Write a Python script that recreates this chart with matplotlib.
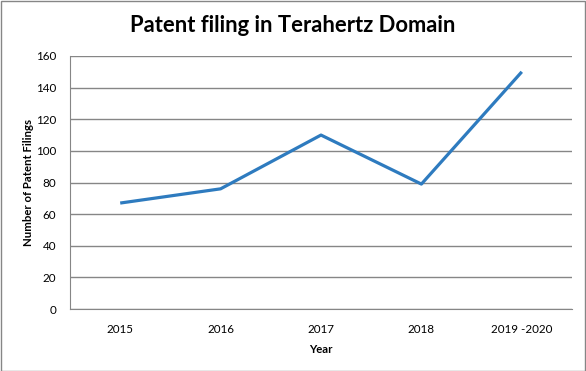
import matplotlib
matplotlib.use("Agg")
import matplotlib.pyplot as plt
from matplotlib.patches import Rectangle

categories = ["2015", "2016", "2017", "2018", "2019 -2020"]
filings = [67, 76, 110, 79, 150]
yticks = [0, 20, 40, 60, 80, 100, 120, 140, 160]

plt.rcParams['font.family'] = ['Lato', 'DejaVu Sans']

fig = plt.figure(figsize=(5.86, 3.71), dpi=100)
W, H = 586, 371
ax = fig.add_axes([70 / W, 1 - 309 / H, (572 - 70) / W, (309 - 56) / H])

x = list(range(len(categories)))
ax.plot(x, filings, color="#2E7BBF", lw=2.3, solid_capstyle="butt", zorder=3)
ax.set_xlim(-0.5, len(categories) - 0.5)
ax.set_ylim(0, 160)
ax.set_yticks(yticks)
ax.set_xticks(x)
ax.set_xticklabels(categories)
ax.grid(axis="y", color="#868686", lw=1.0)
ax.set_axisbelow(True)
for s in ["top", "right"]:
    ax.spines[s].set_visible(False)
ax.spines["left"].set_color("#868686")
ax.spines["bottom"].set_color("#868686")
ax.tick_params(axis="both", length=0, labelsize=8.4, colors="#000000", pad=11)
ax.tick_params(axis="y", pad=10)
ax.set_xlabel("Year", fontsize=8.2, fontweight="bold", labelpad=6)
ax.set_ylabel("Number of Patent Filings", fontsize=8.2, fontweight="bold", labelpad=1)

fig.text(293 / W, 1 - 25 / H, "Patent filing in Terahertz Domain", ha="center", va="center",
         fontsize=15.8, fontweight="bold")

fig.patches.append(Rectangle((0.5 / W, 0.5 / H), (W - 1.5) / W, (H - 1.5) / H, transform=fig.transFigure,
                             fill=False, edgecolor="#868686", lw=1.0))

fig.savefig("out.png", dpi=100)
